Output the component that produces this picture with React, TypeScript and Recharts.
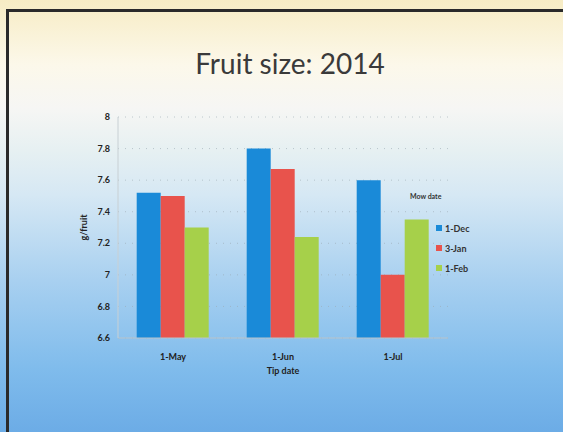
import React from 'react';
import { BarChart, Bar, XAxis, YAxis, CartesianGrid, Label } from 'recharts';

const categories = ['1-May', '1-Jun', '1-Jul'];
const dec1 = [7.52, 7.8, 7.6];
const jan3 = [7.5, 7.67, 7.0];
const feb1 = [7.3, 7.24, 7.35];
const yTicks = [6.6, 6.8, 7, 7.2, 7.4, 7.6, 7.8, 8];
const seriesNames = ['1-Dec', '3-Jan', '1-Feb'];
const colors = ['#1a8ad8', '#e8534c', '#a6d04a'];

const data = categories.map((c, i) => ({ cat: c, d: dec1[i], j: jan3[i], f: feb1[i] }));

const LegendBox = () => (
  <div style={{ position: 'absolute', left: 436, top: 192, fontFamily: 'Lato, "Open Sans", sans-serif', fontWeight: 700, color: '#333' }}>
    <div style={{ fontSize: 7, marginBottom: 18, marginLeft: -26 }}>Mow date</div>
    {seriesNames.map((n, i) => (
      <div key={n} style={{ display: 'flex', alignItems: 'center', fontSize: 9, height: 20 }}>
        <span style={{ display: 'inline-block', width: 6, height: 6, background: colors[i], marginRight: 3 }} />
        {n}
      </div>
    ))}
  </div>
);

export default function App() {
  return (
    <div style={{ position: 'absolute', left: 0, top: 0, width: 563, height: 432, overflow: 'hidden',
      background: 'linear-gradient(180deg, #f7ecc4 0%, #fcf8ea 15%, #f6f6f4 25%, #e6f0f2 35%, #d6e8f4 45%, #a8d0f0 65%, #80bcec 85%, #6cace6 100%)' }}>
      <div style={{ position: 'absolute', left: 6, top: 9, right: 0, bottom: 0, borderLeft: '3px solid #2a2a2a', borderTop: '3px solid #2a2a2a' }} />
      <div style={{ position: 'absolute', left: 0, width: 580, top: 46, textAlign: 'center', fontFamily: 'Lato, "Open Sans", sans-serif', fontSize: 28, color: '#3a3a3a' }}>
        Fruit size: 2014
      </div>
      <BarChart width={563} height={432} data={data} margin={{ top: 117, right: 115, bottom: 64, left: 88 }}
        barCategoryGap="17%" barGap={0} style={{ position: 'absolute', left: 0, top: 0 }}>
        <CartesianGrid vertical={false} stroke="#9aa8b0" strokeDasharray="1 6" strokeOpacity={0.6} />
        <XAxis dataKey="cat" height={30} axisLine={{ stroke: '#b8c4cc' }} tickLine={false}
          tick={{ fontSize: 9, fontWeight: 700, fill: '#222', fontFamily: 'Lato, sans-serif' }} dy={8}>
          <Label value="Tip date" position="insideBottom" offset={-6} style={{ fontSize: 9, fontWeight: 700, fill: '#222', fontFamily: 'Lato, sans-serif' }} />
        </XAxis>
        <YAxis width={30} domain={[6.6, 8]} ticks={yTicks} interval={0} axisLine={{ stroke: '#c8d0d4' }} tickLine={false}
          tick={{ fontSize: 9, fontWeight: 700, fill: '#222', fontFamily: 'Lato, sans-serif' }}>
          <Label value="g/fruit" angle={-90} position="insideLeft" offset={-4} style={{ fontSize: 9, fontWeight: 700, fill: '#222', fontFamily: 'Lato, sans-serif', textAnchor: 'middle' }} />
        </YAxis>
        <Bar dataKey="d" name={seriesNames[0]} fill={colors[0]} isAnimationActive={false} />
        <Bar dataKey="j" name={seriesNames[1]} fill={colors[1]} isAnimationActive={false} />
        <Bar dataKey="f" name={seriesNames[2]} fill={colors[2]} isAnimationActive={false} />
      </BarChart>
      <LegendBox />
    </div>
  );
}
